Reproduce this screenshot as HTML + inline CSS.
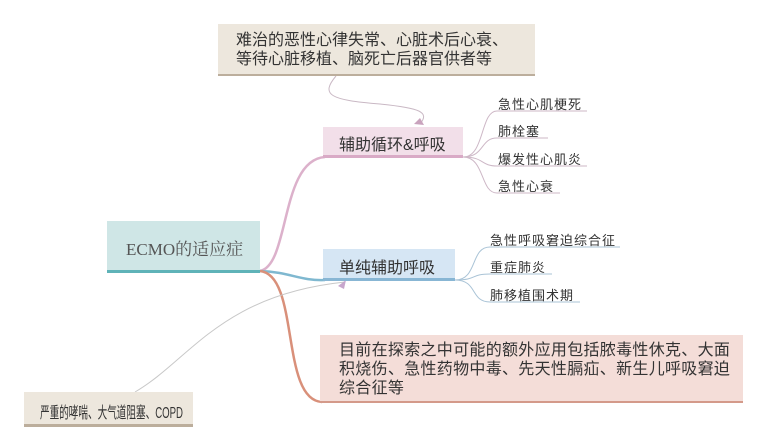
<!DOCTYPE html>
<html><head><meta charset="utf-8"><style>
body{margin:0;width:768px;height:448px;background:#fff;overflow:hidden;position:relative;font-family:"Liberation Sans","Noto Sans CJK SC",sans-serif;color:#333}
.b{position:absolute;box-sizing:border-box}
.t{position:absolute;font-size:13px;color:#333;letter-spacing:1px;white-space:nowrap}
</style></head><body>
<svg width="768" height="448" style="position:absolute;left:0;top:0">
<g fill="none">
<path d="M336 76 C320 95 330 100 380 104 C420 108 430 112 420 124" stroke="#c9b8c4" stroke-width="1"/>
<path d="M414 124 L420 118 L424 125 Z" fill="#c9a3bd" stroke="none"/>
<path d="M260 271 C290 265 280 160 325 157" stroke="#dcb1cb" stroke-width="2.5"/>
<path d="M260 271 C290 272 300 281 325 280" stroke="#7fb8d0" stroke-width="2.5"/>
<path d="M260 271 C300 275 280 400 322 402" stroke="#d9907a" stroke-width="2.5"/>
<path d="M135 392 C190 360 220 295 345 282" stroke="#c8c8c8" stroke-width="1"/>
<path d="M338 286 L346 280 L344 289 Z" fill="#c7a6cc" stroke="none"/>
<g stroke="#cdb7c6" stroke-width="1">
<path d="M463 157 C485 157 480 111 497 111 L587 111"/>
<path d="M463 157 C485 157 480 138 497 138 L548 138"/>
<path d="M463 157 C485 157 480 166 497 166 L587 166"/>
<path d="M463 157 C485 157 480 193 497 193 L560 193"/>
</g>
<g stroke="#a9c3d6" stroke-width="1">
<path d="M455 280 C478 280 470 247 490 247 L620 247"/>
<path d="M455 280 C478 280 470 274 490 274 L552 274"/>
<path d="M455 280 C478 280 470 302 490 302 L580 302"/>
</g>
</g></svg>
<div class="b" style="left:218px;top:24px;width:317px;height:52px;background:#ede7dd;border-bottom:2px solid #bcae9c"></div>
<div class="t" style="left:236px;top:31px;font-size:16px;line-height:19px;letter-spacing:0">难治的恶性心律失常、心脏术后心衰、<br>等待心脏移植、脑死亡后器官供者等</div>
<div class="b" style="left:323px;top:127px;width:140px;height:31px;background:#f2dfe9;border-bottom:3px solid #d9aac6"></div>
<div class="t" style="left:339px;top:131px;font-size:16px;letter-spacing:0">辅助循环&amp;呼吸</div>
<div class="b" style="left:107px;top:221px;width:153px;height:52px;background:#cfe6e6;border-bottom:3px solid #5fb3b8"></div>
<div class="t" style="left:126px;top:235px;font-size:17px;letter-spacing:0;font-family:'Liberation Serif','Noto Serif CJK SC',serif;color:#555">ECMO的适应症</div>
<div class="b" style="left:323px;top:249px;width:132px;height:32px;background:#d6e6f4;border-bottom:3px solid #88b6d4"></div>
<div class="t" style="left:339px;top:254px;font-size:16px;letter-spacing:0">单纯辅助呼吸</div>
<div class="t" style="left:498px;top:94px">急性心肌梗死</div>
<div class="t" style="left:498px;top:121px">肺栓塞</div>
<div class="t" style="left:498px;top:149px">爆发性心肌炎</div>
<div class="t" style="left:498px;top:176px">急性心衰</div>
<div class="t" style="left:490px;top:230px">急性呼吸窘迫综合征</div>
<div class="t" style="left:490px;top:257px">重症肺炎</div>
<div class="t" style="left:490px;top:285px">肺移植围术期</div>
<div class="b" style="left:320px;top:335px;width:423px;height:68px;background:#f4ddd8;border-bottom:2px solid #d49a8a"></div>
<div class="t" style="left:339px;top:341px;font-size:16px;line-height:19px;letter-spacing:0.3px">目前在探索之中可能的额外应用包括脓毒性休克、大面<br>积烧伤、急性药物中毒、先天性膈疝、新生儿呼吸窘迫<br>综合征等</div>
<div class="b" style="left:24px;top:392px;width:169px;height:35px;background:#ede7dd;border-bottom:3px solid #bcae9c"></div>
<div class="t" style="left:40px;top:399px;font-size:16px;letter-spacing:0;transform:scaleX(0.6);transform-origin:0 0">严重的哮喘、大气道阻塞、COPD</div>
</body></html>
